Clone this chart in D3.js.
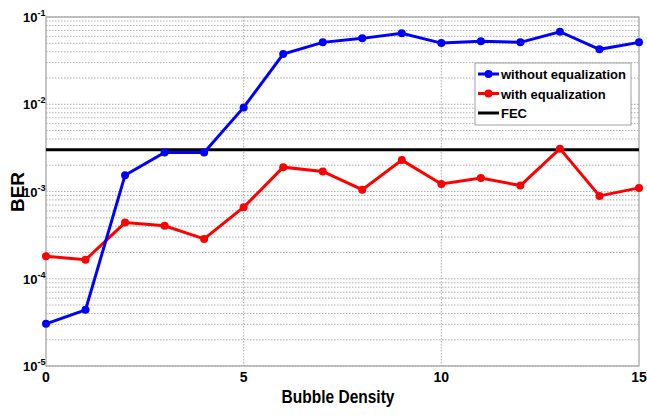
<!DOCTYPE html>
<html lang="en">
<head>
<meta charset="utf-8">
<title>BER vs Bubble Density</title>
<script src="https://d3js.org/d3.v7.min.js"></script>
<style>
	body { margin: 0; background: #fff; font-family: Arial, 'Liberation Sans', sans-serif; }
	.grid line { stroke: #9a9a9a; stroke-width: 0.8; stroke-dasharray: 1.5, 1.5; }
	text { font-weight: bold; fill: #000; }
</style>
</head>
<body>
<div id="chart"></div>
<script>
// data
var density = [0, 1, 2, 3, 4, 5, 6, 7, 8, 9, 10, 11, 12, 13, 14, 15];
var withoutEq = [3.04e-5, 4.4e-5, 1.54e-3, 2.8e-3, 2.8e-3, 9.2e-3, 0.0376, 0.0512, 0.0569, 0.065,
	0.0502, 0.0526, 0.0512, 0.0678, 0.0426, 0.0512];
var withEq = [1.81e-4, 1.65e-4, 4.4e-4, 4.04e-4, 2.86e-4, 6.6e-4, 1.9e-3, 1.7e-3, 1.05e-3, 2.29e-3,
	1.22e-3, 1.43e-3, 1.17e-3, 3.1e-3, 8.9e-4, 1.1e-3];
var fec = 3.0e-3;
var xTicks = [0, 5, 10, 15];
var yExps = [-5, -4, -3, -2, -1];
var legendNames = ["without equalization", "with equalization", "FEC"];

var width = 647, height = 415;
// plot box (window.top is reserved, so use a prefix)
var pLeft = 46, pRight = 639, pTop = 17, pBottom = 366;

var svg = d3.select("#chart").append("svg")
	.attr("width", width)
	.attr("height", height);

var x = d3.scaleLinear().domain([0, 15]).range([pLeft, pRight]);
var y = d3.scaleLog().domain([1e-5, 1e-1]).range([pBottom, pTop]);

// grid: all decade and minor lines
var yGrid = [];
yExps.forEach(function(e) {
	if (e == -1) { yGrid.push(1e-1); return; }
	for (var m = 1; m < 10; m++) yGrid.push(m * Math.pow(10, e));
});

var grid = svg.append("g").attr("class", "grid");
grid.selectAll(".hg").data(yGrid).enter().append("line")
	.attr("x1", pLeft).attr("x2", pRight)
	.attr("y1", function(d) { return y(d); })
	.attr("y2", function(d) { return y(d); });
grid.selectAll(".vg").data(xTicks.slice(1, 3)).enter().append("line")
	.attr("x1", function(d) { return x(d); })
	.attr("x2", function(d) { return x(d); })
	.attr("y1", pTop).attr("y2", pBottom);

// frame
svg.append("rect")
	.attr("x", pLeft).attr("y", pTop)
	.attr("width", pRight - pLeft).attr("height", pBottom - pTop)
	.attr("fill", "none").attr("stroke", "#a0a0a0").attr("stroke-width", 1.2);

// x tick labels
svg.selectAll(".xt").data(xTicks).enter().append("text")
	.attr("x", function(d) { return x(d); })
	.attr("y", pBottom + 16)
	.attr("text-anchor", "middle")
	.style("font-size", "14px")
	.text(function(d) { return d; });

// y tick labels 10^e
var yt = svg.selectAll(".yt").data(yExps).enter().append("text")
	.attr("x", 23)
	.attr("y", function(d) { return y(Math.pow(10, d)) + 5; })
	.style("font-size", "13px");
yt.append("tspan").text("10");
yt.append("tspan")
	.attr("dy", -6)
	.style("font-size", "9px")
	.text(function(d) { return d; });

// axis titles
svg.append("text")
	.attr("x", 338).attr("y", 403)
	.attr("text-anchor", "middle")
	.attr("textLength", 113).attr("lengthAdjust", "spacingAndGlyphs")
	.style("font-size", "18px")
	.text("Bubble Density");

svg.append("text")
	.attr("transform", "translate(24,192) rotate(-90)")
	.attr("text-anchor", "middle")
	.style("font-size", "19px")
	.text("BER");

// FEC line
svg.append("line")
	.attr("x1", pLeft).attr("x2", pRight)
	.attr("y1", y(fec)).attr("y2", y(fec))
	.attr("stroke", "#000").attr("stroke-width", 3);

var line = d3.line()
	.x(function(d, i) { return x(density[i]); })
	.y(function(d) { return y(d); });

function drawSeries(vals, color) {
	svg.append("path")
		.datum(vals)
		.attr("d", line)
		.attr("fill", "none")
		.attr("stroke", color)
		.attr("stroke-width", 3);
	svg.selectAll(null).data(vals).enter().append("circle")
		.attr("cx", function(d, i) { return x(density[i]); })
		.attr("cy", function(d) { return y(d); })
		.attr("r", 4)
		.attr("fill", color);
}
drawSeries(withEq, "#ff0000");
drawSeries(withoutEq, "#0000ff");

// legend
var lg = svg.append("g");
lg.append("rect")
	.attr("x", 475).attr("y", 63)
	.attr("width", 156).attr("height", 62)
	.attr("fill", "#fff").attr("stroke", "#a0a0a0").attr("stroke-width", 1);
var legColors = ["#0000ff", "#ff0000", "#000"];
legendNames.forEach(function(name, i) {
	var ly = 74 + i * 19.5;
	lg.append("line")
		.attr("x1", 478).attr("x2", 499)
		.attr("y1", ly).attr("y2", ly)
		.attr("stroke", legColors[i]).attr("stroke-width", 3);
	if (i < 2) {
		lg.append("circle").attr("cx", 488.5).attr("cy", ly).attr("r", 4).attr("fill", legColors[i]);
	}
	lg.append("text")
		.attr("x", 501).attr("y", ly + 5)
		.style("font-size", "13px")
		.text(name);
});
</script>
</body>
</html>
